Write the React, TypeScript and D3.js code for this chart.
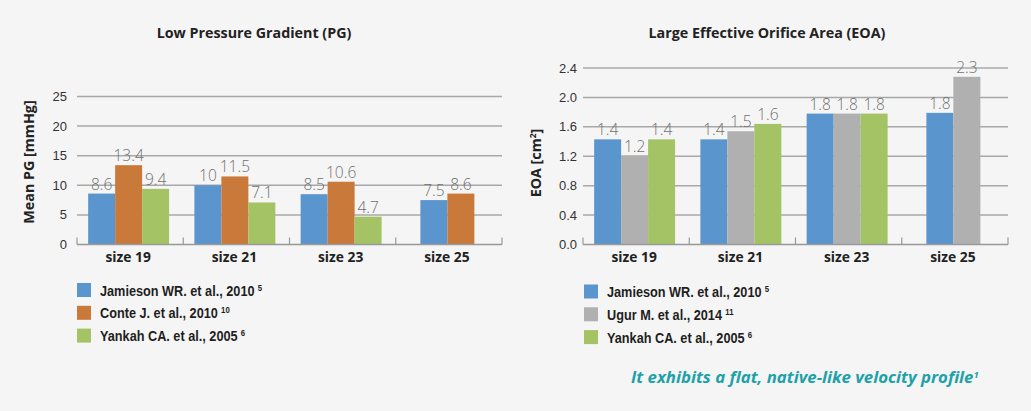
import React from "react";
import * as d3 from "d3";

const categories = ["size 19", "size 21", "size 23", "size 25"];

// Left chart: Mean PG [mmHg]
const pgJamieson = [8.6, 10, 8.5, 7.5];
const pgConte = [13.4, 11.5, 10.6, 8.6];
const pgYankah: (number | null)[] = [9.4, 7.1, 4.7, null];
const pgTicks = [0, 5, 10, 15, 20, 25];

// Right chart: EOA [cm²]
const eoaJamieson = [1.43, 1.43, 1.78, 1.79];
const eoaUgur = [1.21, 1.54, 1.78, 2.28];
const eoaYankah: (number | null)[] = [1.43, 1.64, 1.78, null];
const eoaTicks = [0, 0.4, 0.8, 1.2, 1.6, 2.0, 2.4];

const leftLegend = [
  { name: "Jamieson WR. et al., 2010", sup: "5" },
  { name: "Conte J. et al., 2010", sup: "10" },
  { name: "Yankah CA. et al., 2005", sup: "6" },
];
const rightLegend = [
  { name: "Jamieson WR. et al., 2010", sup: "5" },
  { name: "Ugur M. et al., 2014", sup: "11" },
  { name: "Yankah CA. et al., 2005", sup: "6" },
];

const BLUE = "#5b95cd";
const ORANGE = "#c97a3b";
const GREEN = "#a4c365";
const GRAY = "#b0b0b0";

const W = 1031;
const H = 411;

type PanelProps = {
  x0: number;
  x1: number;
  title: string;
  titleX: number;
  yTitle: React.ReactNode;
  series: (number | null)[][];
  colors: string[];
  ticks: number[];
  yTopPx: number;
  tickFmt: (v: number) => string;
  labelFmt: (v: number) => string;
  tickGap: number;
  legend: { name: string; sup: string }[];
  legendSquareX: number;
  legendY: number;
};

function Panel(p: PanelProps) {
  const y0 = 244.5;
  const yMax = p.ticks[p.ticks.length - 1];
  const y = d3.scaleLinear().domain([0, yMax]).range([y0, p.yTopPx]);
  const x = d3.scaleBand<string>().domain(categories).range([p.x0, p.x1]).padding(0);
  const barW = x.bandwidth() * 0.254;
  const font = "'Open Sans', sans-serif";
  const tickFont = "'Liberation Sans', Arial, sans-serif";
  const legendFont = "'Liberation Sans', Arial, sans-serif";
  const boundaries = [p.x0, ...categories.map((c) => (x(c) as number) + x.bandwidth())];
  return (
    <g>
      <text
        x={p.titleX}
        y={38}
        textAnchor="middle"
        fontFamily={font}
        fontWeight={700}
        fontSize={14.3}
        fill="#222"
      >
        {p.title}
      </text>
      {p.ticks.map((t) => (
        <g key={t}>
          {t !== 0 && (
            <line x1={p.x0} x2={p.x1} y1={y(t)} y2={y(t)} stroke="#a8a8a8" strokeWidth={1.5} />
          )}
          <text
            x={p.x0 - p.tickGap}
            y={y(t) + 4.5}
            textAnchor="end"
            fontFamily={tickFont}
            fontSize={13}
            fill="#333"
          >
            {p.tickFmt(t)}
          </text>
        </g>
      ))}
      {categories.map((c, i) => {
        const present = p.series
          .map((s, k) => ({ v: s[i], k }))
          .filter((d) => d.v !== null && d.v !== undefined) as { v: number; k: number }[];
        const center = (x(c) as number) + x.bandwidth() / 2;
        const start = center - (present.length * barW) / 2 - 1.5;
        return (
          <g key={c}>
            {present.map((d, j) => (
              <g key={j}>
                <rect
                  x={start + j * barW}
                  y={y(d.v)}
                  width={barW}
                  height={y0 - y(d.v)}
                  fill={p.colors[d.k]}
                />
                <text
                  x={start + j * barW + barW / 2}
                  y={y(d.v) - 4}
                  textAnchor="middle"
                  fontFamily={font}
                  fontWeight={300}
                  fontSize={15.5}
                  fill="#707070"
                >
                  {p.labelFmt(d.v)}
                </text>
              </g>
            ))}
            <text
              x={center - 2}
              y={262}
              textAnchor="middle"
              fontFamily={font}
              fontWeight={700}
              fontSize={13.8}
              fill="#222"
            >
              {c}
            </text>
          </g>
        );
      })}
      <line x1={p.x0} x2={p.x1} y1={y0} y2={y0} stroke="#999" strokeWidth={1.5} />
      {boundaries.map((b, i) => (
        <line key={i} x1={b} x2={b} y1={y0} y2={y0 - 7} stroke="#999" strokeWidth={1.2} />
      ))}
      {p.legend.map((l, i) => (
        <g key={l.name}>
          <rect x={p.legendSquareX} y={p.legendY + i * 22.8} width={14} height={14} fill={p.colors[i]} />
          <text
            transform={`translate(${p.legendSquareX + 23},${p.legendY + i * 22.8 + 12.5}) scale(0.82,1)`}
            fontFamily={legendFont}
            fontWeight={700}
            fontSize={15.5}
            fill="#1e1e1e"
          >
            {l.name}
            <tspan dx={4} dy={-5} fontSize={9.5}>
              {l.sup}
            </tspan>
          </text>
        </g>
      ))}
      {p.yTitle}
    </g>
  );
}

export default function App() {
  const font = "'Open Sans', sans-serif";
  return (
    <svg
      width={W}
      height={H}
      style={{ position: "absolute", left: 0, top: 0, background: "#f5f5f5" }}
    >
      <rect width={W} height={H} fill="#f5f5f5" />
      <Panel
        x0={77}
        x1={502}
        title="Low Pressure Gradient (PG)"
        titleX={254}
        yTitle={
          <text
            transform="translate(34,162) rotate(-90)"
            textAnchor="middle"
            fontFamily={font}
            fontWeight={700}
            fontSize={14.3}
            fill="#222"
          >
            Mean PG [mmHg]
          </text>
        }
        series={[pgJamieson, pgConte, pgYankah]}
        colors={[BLUE, ORANGE, GREEN]}
        ticks={pgTicks}
        yTopPx={96.5}
        tickFmt={(v) => String(v)}
        labelFmt={(v) => String(v)}
        tickGap={10}
        legend={leftLegend}
        legendSquareX={77}
        legendY={283}
      />
      <Panel
        x0={583}
        x1={1008}
        title="Large Effective Orifice Area (EOA)"
        titleX={767}
        yTitle={
          <text
            transform="translate(541,163) rotate(-90)"
            textAnchor="middle"
            fontFamily={font}
            fontWeight={700}
            fontSize={14.3}
            fill="#222"
          >
            EOA [cm
            <tspan dy={-5} fontSize={8.5}>
              2
            </tspan>
            <tspan dy={5}>]</tspan>
          </text>
        }
        series={[eoaJamieson, eoaUgur, eoaYankah]}
        colors={[BLUE, GRAY, GREEN]}
        ticks={eoaTicks}
        yTopPx={68}
        tickFmt={d3.format(".1f")}
        labelFmt={d3.format(".1f")}
        tickGap={6}
        legend={rightLegend}
        legendSquareX={584}
        legendY={284.5}
      />
      <text
        x={631}
        y={383}
        fontFamily={font}
        fontWeight={700}
        fontStyle="italic"
        fontSize={16.8}
        fill="#1ea1a8"
      >
        It exhibits a flat, native-like velocity profile
        <tspan dy={-5} fontSize={9.5}>
          1
        </tspan>
      </text>
    </svg>
  );
}
